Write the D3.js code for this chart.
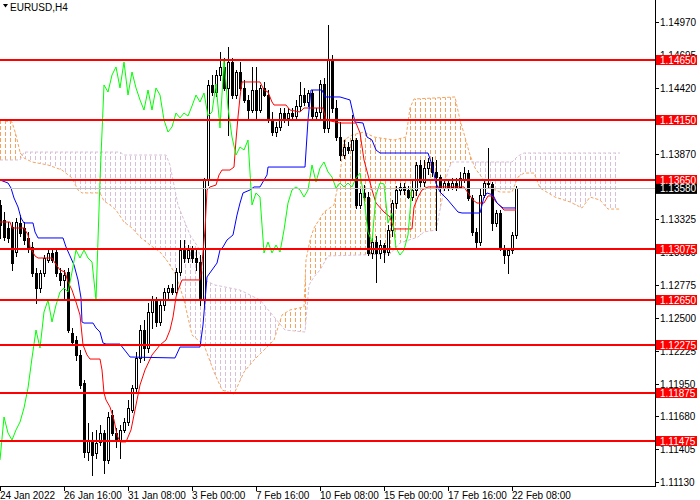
<!DOCTYPE html>
<html><head><meta charset="utf-8">
<script src="https://cdn.jsdelivr.net/npm/d3@7"></script>
<style>body{margin:0;background:#fff}svg{display:block;font-family:"Liberation Sans",Arial,sans-serif}</style>
</head><body><svg id="c" width="700" height="500"></svg>
<script>
const symbolTitle = "EURUSD,H4";
const openP = [1.13442,1.13317,1.13250,1.13258,1.13050,1.13292,1.13250,1.13167,1.13092,1.12875,
1.12750,1.12875,1.12983,1.13042,1.13050,1.12875,1.12817,1.12883,1.12375,1.12317,
1.12192,1.11958,1.11383,1.11483,1.11375,1.11467,1.11542,1.11317,1.11692,1.11542,
1.11483,1.11567,1.11633,1.11733,1.11917,1.12167,1.12400,1.12250,1.12550,1.12650,
1.12467,1.12608,1.12717,1.12750,1.12717,1.12883,1.13067,1.13000,1.13067,1.13000,
1.12967,1.12650,1.13650,1.14442,1.14383,1.14525,1.14592,1.14417,1.14633,1.14358,
1.14550,1.14417,1.14317,1.14233,1.14400,1.14233,1.14417,1.14358,1.14150,1.14050,
1.14092,1.14208,1.14167,1.14208,1.14183,1.14267,1.14358,1.14300,1.14375,1.14183,
1.14217,1.14450,1.14083,1.14650,1.14250,1.14008,1.13858,1.13925,1.13900,1.13983,
1.13442,1.13542,1.13508,1.13042,1.13133,1.13042,1.13108,1.13050,1.13233,1.13458,
1.13567,1.13592,1.13567,1.13508,1.13567,1.13775,1.13633,1.13750,1.13800,1.13717,
1.13675,1.13583,1.13625,1.13592,1.13625,1.13592,1.13650,1.13708,1.13500,1.13217,
1.13133,1.13525,1.13625,1.13617,1.13292,1.13375,1.13083,1.13025,1.13067,1.13192];
const highP = [1.13483,1.13383,1.13300,1.13300,1.13333,1.13358,1.13300,1.13217,1.13133,1.12917,
1.12900,1.13025,1.13083,1.13067,1.13083,1.12917,1.12900,1.12917,1.12417,1.12350,
1.12233,1.11983,1.11625,1.11550,1.11567,1.11608,1.11567,1.11717,1.11733,1.11583,
1.11608,1.11667,1.11817,1.11942,1.12217,1.12442,1.12483,1.12625,1.12683,1.12675,
1.12650,1.12750,1.12775,1.12783,1.12917,1.13150,1.13150,1.13108,1.13100,1.13067,
1.13025,1.13667,1.14483,1.14525,1.14567,1.14717,1.14667,1.14758,1.14667,1.14567,
1.14633,1.14483,1.14358,1.14592,1.14592,1.14442,1.14467,1.14400,1.14217,1.14133,
1.14250,1.14250,1.14250,1.14250,1.14317,1.14467,1.14417,1.14400,1.14400,1.14250,
1.14483,1.14500,1.14942,1.14692,1.14317,1.14133,1.13983,1.13967,1.14192,1.14000,
1.13583,1.13608,1.13550,1.13167,1.13183,1.13150,1.13125,1.13275,1.13483,1.13600,
1.13625,1.13625,1.13600,1.13650,1.13800,1.13817,1.13817,1.13833,1.13842,1.13817,
1.13692,1.13650,1.13650,1.13667,1.13667,1.13717,1.13758,1.13733,1.13525,1.13250,
1.13583,1.13650,1.13917,1.13633,1.13400,1.13400,1.13108,1.13083,1.13217,1.13600];
const lowP = [1.13167,1.13150,1.13133,1.12900,1.13017,1.13183,1.13117,1.13050,1.12850,1.12625,
1.12717,1.12850,1.12967,1.12967,1.12850,1.12775,1.12650,1.12383,1.12275,1.12150,
1.11917,1.11342,1.11317,1.11192,1.11333,1.11442,1.11208,1.11292,1.11525,1.11425,
1.11333,1.11550,1.11608,1.11717,1.11883,1.12133,1.12150,1.12217,1.12417,1.12433,
1.12442,1.12567,1.12650,1.12700,1.12700,1.12858,1.12967,1.12967,1.12967,1.12900,
1.12608,1.12608,1.13608,1.14358,1.14350,1.14483,1.14400,1.14025,1.14333,1.14333,
1.14400,1.14300,1.14150,1.14217,1.14150,1.14217,1.14350,1.14133,1.14025,1.14017,
1.14067,1.14133,1.14108,1.14150,1.14167,1.14233,1.14275,1.14267,1.14150,1.14150,
1.14167,1.14050,1.14050,1.14217,1.13983,1.13817,1.13833,1.13875,1.13650,1.13417,
1.13417,1.13483,1.13025,1.13000,1.12800,1.13000,1.12967,1.13025,1.13183,1.13417,
1.13533,1.13533,1.13500,1.13483,1.13525,1.13600,1.13600,1.13700,1.13683,1.13233,
1.13550,1.13567,1.13567,1.13575,1.13567,1.13583,1.13633,1.13483,1.13192,1.13092,
1.13108,1.13508,1.13583,1.13233,1.13267,1.13067,1.12958,1.12875,1.13042,1.13167];
const closeP = [1.13275,1.13175,1.13167,1.12958,1.13300,1.13208,1.13150,1.13083,1.12875,1.12750,
1.12875,1.13000,1.13042,1.12983,1.12875,1.12817,1.12858,1.12400,1.12300,1.12192,
1.11942,1.11383,1.11483,1.11358,1.11458,1.11542,1.11317,1.11675,1.11542,1.11483,
1.11567,1.11633,1.11750,1.11917,1.12167,1.12400,1.12250,1.12550,1.12650,1.12467,
1.12608,1.12717,1.12750,1.12717,1.12883,1.13067,1.13000,1.13067,1.13000,1.12967,
1.12650,1.13650,1.14442,1.14383,1.14525,1.14592,1.14417,1.14633,1.14358,1.14550,
1.14417,1.14317,1.14233,1.14400,1.14233,1.14417,1.14358,1.14150,1.14050,1.14092,
1.14208,1.14167,1.14208,1.14183,1.14267,1.14358,1.14300,1.14375,1.14183,1.14217,
1.14450,1.14083,1.14650,1.14250,1.14008,1.13858,1.13925,1.13900,1.13983,1.13442,
1.13542,1.13508,1.13042,1.13133,1.13042,1.13108,1.13050,1.13233,1.13458,1.13567,
1.13592,1.13567,1.13508,1.13567,1.13775,1.13633,1.13750,1.13800,1.13717,1.13675,
1.13583,1.13625,1.13592,1.13625,1.13592,1.13667,1.13708,1.13500,1.13217,1.13133,
1.13525,1.13625,1.13617,1.13292,1.13375,1.13083,1.13025,1.13067,1.13192,1.13583];

// Ichimoku lines: [bar, price]
const tenkan = [[0,1.13300],[2.5,1.13300],[3,1.13250],[6,1.13250],[7,1.13192],[7.5,1.13092],[8.75,1.13017],[9.5,1.13000],[13,1.13000],[13.75,1.12958],[15,1.12900],[16.25,1.12883],[17,1.12800],[18,1.12733],[19,1.12633],[20,1.12525],[20.75,1.12275],[21.75,1.12192],[22.5,1.12158],[25,1.12158],[25.5,1.12067],[26,1.11875],[26.5,1.11817],[27.5,1.11758],[28.5,1.11650],[29.25,1.11525],[30,1.11467],[31.5,1.11467],[32,1.11508],[32.75,1.11567],[33.5,1.11692],[34.25,1.11817],[35,1.11942],[36.25,1.12067],[38,1.12192],[40,1.12275],[41.5,1.12317],[42.5,1.12400],[43.25,1.12508],[44,1.12675],[44.5,1.12733],[45.5,1.12817],[50,1.12817],[50.5,1.12958],[51.25,1.13233],[51.75,1.13567],[52.5,1.13592],[54,1.13608],[54.75,1.13692],[55.5,1.13733],[57.5,1.13733],[58.5,1.13758],[59,1.13983],[59.5,1.14175],[60,1.14342],[60.5,1.14467],[65,1.14467],[66,1.14400],[67,1.14383],[68,1.14300],[68.5,1.14275],[71.5,1.14275],[72.5,1.14233],[75,1.14217],[76,1.14250],[80.75,1.14250],[81.5,1.14150],[85,1.14125],[89,1.14125],[90,1.14042],[91,1.13817],[92,1.13692],[93,1.13567],[94,1.13458],[96,1.13383],[97.5,1.13342],[98.5,1.13242],[103,1.13242],[103.5,1.13425],[104.5,1.13508],[105.5,1.13567],[107,1.13592],[116,1.13592],[117,1.13542],[118.25,1.13483],[119.25,1.13458],[121,1.13458],[122,1.13517],[123,1.13517],[124,1.13467],[125,1.13433],[126,1.13400],[129,1.13400]];
const kijun = [[0,1.13650],[2,1.13625],[2.75,1.13583],[3.5,1.13500],[4.5,1.13425],[5.25,1.13333],[6,1.13292],[8.25,1.13292],[8.75,1.13217],[9.5,1.13167],[15.75,1.13167],[16.5,1.13092],[17.5,1.13017],[18.5,1.12942],[19.5,1.12817],[20.25,1.12667],[20.5,1.12467],[21,1.12458],[23.25,1.12458],[24,1.12417],[25,1.12383],[25.75,1.12292],[26.5,1.12283],[30,1.12283],[30.75,1.12250],[31.75,1.12208],[32.5,1.12175],[43.75,1.12167],[45,1.12258],[50,1.12258],[50.75,1.12442],[51.75,1.12842],[54.25,1.12958],[55,1.13067],[55.75,1.13092],[56.75,1.13150],[58.25,1.13192],[59.25,1.13358],[60,1.13458],[60.75,1.13542],[62.5,1.13567],[63.5,1.13592],[65,1.13592],[66,1.13650],[66.75,1.13692],[67,1.13758],[76.25,1.13758],[77,1.14150],[77.75,1.14400],[80.5,1.14400],[81.25,1.14342],[85,1.14342],[87.5,1.14317],[88.75,1.14133],[90.75,1.14125],[91.75,1.14008],[93,1.13983],[94,1.13900],[95,1.13875],[107,1.13875],[108,1.13775],[109,1.13625],[110,1.13550],[111.75,1.13492],[113,1.13442],[114.5,1.13383],[115.5,1.13375],[120,1.13375],[121,1.13508],[121.75,1.13542],[123.25,1.13525],[124.25,1.13458],[125.75,1.13417],[129,1.13417]];
const spanA = [[0,1.14150],[3,1.14133],[4,1.14025],[5,1.13883],[6,1.13833],[8,1.13800],[12,1.13775],[15.5,1.13733],[18,1.13667],[19.5,1.13567],[20.5,1.13542],[25,1.13542],[26,1.13475],[27.5,1.13442],[29,1.13400],[31,1.13300],[33,1.13250],[35,1.13175],[37.5,1.13108],[40,1.13050],[42,1.12967],[44,1.12858],[46,1.12650],[48,1.12358],[51,1.12275],[53.5,1.12050],[55.5,1.11900],[58.5,1.11867],[61,1.12050],[63.5,1.12150],[66,1.12233],[68.5,1.12317],[70.5,1.12525],[72.5,1.12567],[76,1.12592],[76.5,1.12983],[77.5,1.13150],[78.5,1.13250],[81,1.13383],[83.5,1.13442],[85,1.13692],[86,1.13983],[88,1.14025],[91,1.14050],[93.5,1.14008],[98.5,1.13983],[101.5,1.14008],[102.5,1.14250],[103.5,1.14325],[113.75,1.14342],[115,1.14150],[116.25,1.14008],[117.5,1.13858],[118.75,1.13750],[120,1.13692],[122.5,1.13583],[125,1.13550],[128,1.13550],[129.5,1.13675],[131,1.13708],[133.5,1.13708],[135,1.13583],[138.75,1.13508],[142.5,1.13467],[145.5,1.13417],[147.5,1.13508],[150,1.13483],[152,1.13408],[155,1.13408]];
const spanB = [[0,1.13817],[5,1.13817],[6,1.13883],[30,1.13883],[31,1.13858],[41.5,1.13858],[42.5,1.13775],[43.5,1.13608],[44.5,1.13442],[45.5,1.13358],[47.5,1.13192],[49.5,1.13092],[51,1.12817],[53.75,1.12775],[60,1.12733],[65,1.12650],[68.75,1.12500],[71.25,1.12400],[76.25,1.12383],[77.25,1.12775],[78.5,1.12842],[80,1.12900],[82,1.13017],[97.5,1.13033],[100,1.13125],[104.5,1.13175],[106,1.13217],[109,1.13233],[110.5,1.13483],[112,1.13733],[113,1.13800],[128,1.13800],[129.5,1.13850],[131,1.13875],[155,1.13875]];
const chikouShift = 26;

const levelPrices = [1.14650,1.14150,1.13650,1.13075,1.12650,1.12275,1.11875,1.11475];
const bidPrice = 1.13580;
const yTickValues = [1.14970,1.14695,1.14420,1.13870,1.13325,1.13050,1.12775,1.12500,1.12225,1.11950,1.11680,1.11405,1.11130];
const xTickBars = [0,16,32,48,64,80,96,112,128];
const xTickLabels = ["24 Jan 2022","26 Jan 16:00","31 Jan 08:00","3 Feb 00:00","7 Feb 16:00","10 Feb 08:00","15 Feb 00:00","17 Feb 16:00","22 Feb 08:00"];

const svg = d3.select("#c");
const R = 655, Bt = 486;
const x = d3.scaleLinear().domain([0, 163.75]).range([0, R]);
const y = d3.scaleLinear().domain([1.1515, 1.1115]).range([0, 480]);
const defs = svg.append("defs");
defs.append("clipPath").attr("id","plot").append("rect").attr("x",0).attr("y",0).attr("width",R).attr("height",Bt);
function hatch(id,color){
  const p = defs.append("pattern").attr("id",id).attr("patternUnits","userSpaceOnUse").attr("width",5).attr("height",6);
  p.append("rect").attr("x",0).attr("y",0).attr("width",1).attr("height",4).attr("fill",color);
}
hatch("hO","#F4A460"); hatch("hT","#D8BFD8");
const pt = d => x(d[0]).toFixed(2)+","+y(d[1]).toFixed(2);
const bLast = spanB[spanB.length-1][0];
defs.append("clipPath").attr("id","aboveB").append("path")
  .attr("d","M"+x(0)+",-10L"+spanB.map(pt).join("L")+"L"+x(bLast)+",-10Z");
defs.append("clipPath").attr("id","belowB").append("path")
  .attr("d","M"+x(0)+","+(Bt+10)+"L"+spanB.map(pt).join("L")+"L"+x(bLast)+","+(Bt+10)+"Z");

const g = svg.append("g").attr("clip-path","url(#plot)");
const cloudD = "M"+spanA.map(pt).join("L")+"L"+spanB.slice().reverse().map(pt).join("L")+"Z";
g.append("g").attr("clip-path","url(#aboveB)").append("path").attr("d",cloudD).attr("fill","url(#hO)").attr("fill-rule","evenodd");
g.append("g").attr("clip-path","url(#belowB)").append("path").attr("d",cloudD).attr("fill","url(#hT)").attr("fill-rule","evenodd");
const line = d3.line().x(d=>x(d[0])).y(d=>y(d[1]));
g.append("path").attr("d",line(spanA)).attr("fill","none").attr("stroke","#F4A460").attr("stroke-dasharray","3,2");
g.append("path").attr("d",line(spanB)).attr("fill","none").attr("stroke","#D8BFD8").attr("stroke-dasharray","3,2");

// candles
const idx = d3.range(closeP.length);
const cg = g.append("g");
idx.forEach(i=>{
  const cx = Math.round(x(i));
  cg.append("line").attr("x1",cx+0.5).attr("x2",cx+0.5).attr("y1",Math.round(y(highP[i]))).attr("y2",Math.round(y(lowP[i]))+1).attr("stroke","#000");
  const t = Math.round(y(Math.max(openP[i],closeP[i]))), b = Math.round(y(Math.min(openP[i],closeP[i])));
  if (closeP[i] < openP[i]) {
    cg.append("rect").attr("x",cx-1).attr("y",t).attr("width",3).attr("height",Math.max(1,b-t+1)).attr("fill","#000");
  } else {
    cg.append("rect").attr("x",cx-0.5).attr("y",t+0.5).attr("width",2).attr("height",Math.max(0,b-t)).attr("fill","#fff").attr("stroke","#000");
  }
});

g.append("path").attr("d",line(tenkan)).attr("fill","none").attr("stroke","#FF0000");
g.append("path").attr("d",line(kijun)).attr("fill","none").attr("stroke","#0000FF");
const chikou = idx.filter(i=>i>=chikouShift).map(i=>[i-chikouShift, closeP[i]]);
g.append("path").attr("d",line(chikou)).attr("fill","none").attr("stroke","#00FF00");

// bid line
g.append("line").attr("x1",0).attr("x2",R).attr("y1",Math.round(y(bidPrice))+0.5).attr("y2",Math.round(y(bidPrice))+0.5).attr("stroke","#C0C0C0");
// levels
levelPrices.forEach(p=>{
  g.append("line").attr("x1",0).attr("x2",R).attr("y1",y(p)).attr("y2",y(p)).attr("stroke","#FF0000").attr("stroke-width",2);
});

// axes
svg.append("line").attr("x1",R+0.5).attr("x2",R+0.5).attr("y1",0).attr("y2",Bt+1).attr("stroke","#000");
svg.append("line").attr("x1",0).attr("x2",R+1).attr("y1",Bt+0.5).attr("y2",Bt+0.5).attr("stroke","#000");
yTickValues.forEach(v=>{
  const yy = Math.round(y(v))+0.5;
  svg.append("line").attr("x1",R).attr("x2",R+4).attr("y1",yy).attr("y2",yy).attr("stroke","#000");
  svg.append("text").attr("x",660).attr("y",yy+3.5).attr("font-size",10).attr("fill","#000").text(v.toFixed(5));
});
xTickBars.forEach((bi,k)=>{
  const xx = Math.round(x(bi))+0.5;
  svg.append("line").attr("x1",xx).attr("x2",xx).attr("y1",Bt).attr("y2",Bt+5).attr("stroke","#000");
  svg.append("text").attr("x",xx-0.5).attr("y",499).attr("font-size",10).attr("fill","#000").text(xTickLabels[k]);
});
levelPrices.forEach(p=>{
  const yy = y(p);
  svg.append("rect").attr("x",656).attr("y",yy-5).attr("width",41).attr("height",10).attr("fill","#FF0000");
  svg.append("text").attr("x",660).attr("y",yy+3.5).attr("font-size",10).attr("fill","#fff").text(p.toFixed(5));
});
{
  const yy = y(bidPrice);
  svg.append("rect").attr("x",656).attr("y",yy-4.5).attr("width",41).attr("height",10).attr("fill","#000");
  svg.append("text").attr("x",660).attr("y",yy+4).attr("font-size",10).attr("fill","#fff").text(bidPrice.toFixed(5));
}
// title
svg.append("path").attr("d","M3,4L8,4L5.5,7.5Z").attr("fill","#000");
svg.append("text").attr("x",10).attr("y",11).attr("font-size",10).attr("fill","#000").text(symbolTitle);
</script></body></html>
